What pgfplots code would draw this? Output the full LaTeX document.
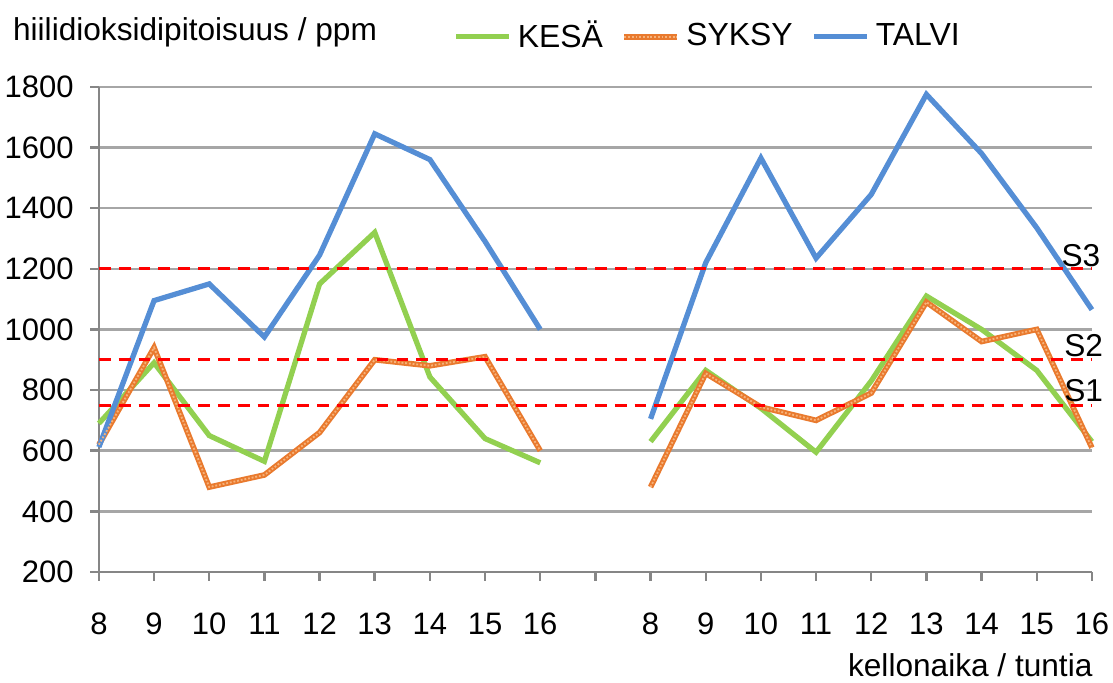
\documentclass[border=0pt]{standalone}
\usepackage{fontspec}
\setmainfont{Liberation Sans}
\usepackage{pgfplots}
\pgfplotsset{compat=1.18}
\definecolor{kesa}{HTML}{92D050}
\definecolor{syksy}{HTML}{E97A2E}
\definecolor{syksyl}{HTML}{F6B27A}
\definecolor{talvi}{HTML}{558ED5}
\definecolor{gridc}{HTML}{A6A6A6}
\definecolor{axc}{HTML}{868686}
\begin{document}
\begin{tikzpicture}
\path[use as bounding box] (-31.9pt,-35.8pt) rectangle (327.1pt,184.5pt);
\begin{axis}[
  scale only axis,
  width=320.3pt, height=156.5pt,
  xmin=0, xmax=18, ymin=200, ymax=1800,
  axis lines=left,
  axis line style={axc, line width=0.8pt, -},
  xtick={0,...,18},
  xticklabels={8,9,10,11,12,13,14,15,16,,8,9,10,11,12,13,14,15,16},
  ytick={200,400,...,1800},
  tick align=outside,
  major tick length=2.8pt,
  tick style={axc, line width=0.8pt},
  ymajorgrids,
  grid style={gridc, line width=0.8pt},
  unbounded coords=jump,
  /pgf/number format/assume math mode=true,
  /pgf/number format/1000 sep={},
  tick label style={font=\fontsize{10}{12}\selectfont},
  yticklabel style={xshift=-1.8pt},
  xticklabel style={yshift=-7pt},
  legend style={draw=none, fill=none, at={(0.347,1.103)}, anchor=west,
    legend columns=3, font=\fontsize{10.3}{12}\selectfont,
    /tikz/every even column/.append style={column sep=4pt}},
  legend cell align=left,
  clip=false,
]
\addplot[kesa, line width=1.7pt] coordinates {
 (0,690) (1,890) (2,650) (3,565) (4,1150) (5,1320) (6,843) (7,640) (8,560) (9,nan)
 (10,630) (11,865) (12,740) (13,595) (14,830) (15,1110) (16,1000) (17,865) (18,630)};
\addlegendentry{KESÄ}
\addplot[syksy, line width=1.8pt,
  legend image code/.code={\draw[syksy, line width=1.8pt] (0cm,0cm) -- (0.6cm,0cm);
    \draw[syksyl, line width=0.6pt, dash pattern=on 0.6pt off 0.6pt] (0cm,0cm) -- (0.6cm,0cm);}] coordinates {
 (0,620) (1,940) (2,480) (3,520) (4,660) (5,900) (6,880) (7,910) (8,600) (9,nan)
 (10,480) (11,855) (12,744) (13,700) (14,790) (15,1090) (16,960) (17,1000) (18,610)};
\addlegendentry{SYKSY}
\addplot[talvi, line width=1.7pt] coordinates {
 (0,612) (1,1095) (2,1150) (3,975) (4,1245) (5,1645) (6,1560) (7,1290) (8,1000) (9,nan)
 (10,705) (11,1220) (12,1565) (13,1235) (14,1445) (15,1775) (16,1580) (17,1335) (18,1065)};
\addlegendentry{TALVI}
\addplot[syksyl, line width=0.6pt, dash pattern=on 0.6pt off 0.6pt, forget plot] coordinates {
 (0,620) (1,940) (2,480) (3,520) (4,660) (5,900) (6,880) (7,910) (8,600) (9,nan)
 (10,480) (11,855) (12,744) (13,700) (14,790) (15,1090) (16,960) (17,1000) (18,610)};
\addplot[red, line width=1.1pt, dash pattern=on 3.8pt off 2.6pt, forget plot] coordinates {(0,1200) (18,1200)};
\addplot[red, line width=1.1pt, dash pattern=on 3.8pt off 2.6pt, forget plot] coordinates {(0,900) (18,900)};
\addplot[red, line width=1.1pt, dash pattern=on 3.8pt off 2.6pt, forget plot] coordinates {(0,750) (18,750)};
\node[font=\fontsize{10.2}{12}\selectfont] at (axis cs:17.8,1245) {S3};
\node[font=\fontsize{10.2}{12}\selectfont] at (axis cs:17.85,946) {S2};
\node[font=\fontsize{10.2}{12}\selectfont] at (axis cs:17.85,797) {S1};
\end{axis}
\node[anchor=west, font=\fontsize{10.2}{12}\selectfont] at (-31.2pt,174.2pt) {hiilidioksidipitoisuus / ppm};
\node[anchor=east, font=\fontsize{10.2}{12}\selectfont] at (324pt,-30pt) {kellonaika / tuntia};
\end{tikzpicture}
\end{document}
